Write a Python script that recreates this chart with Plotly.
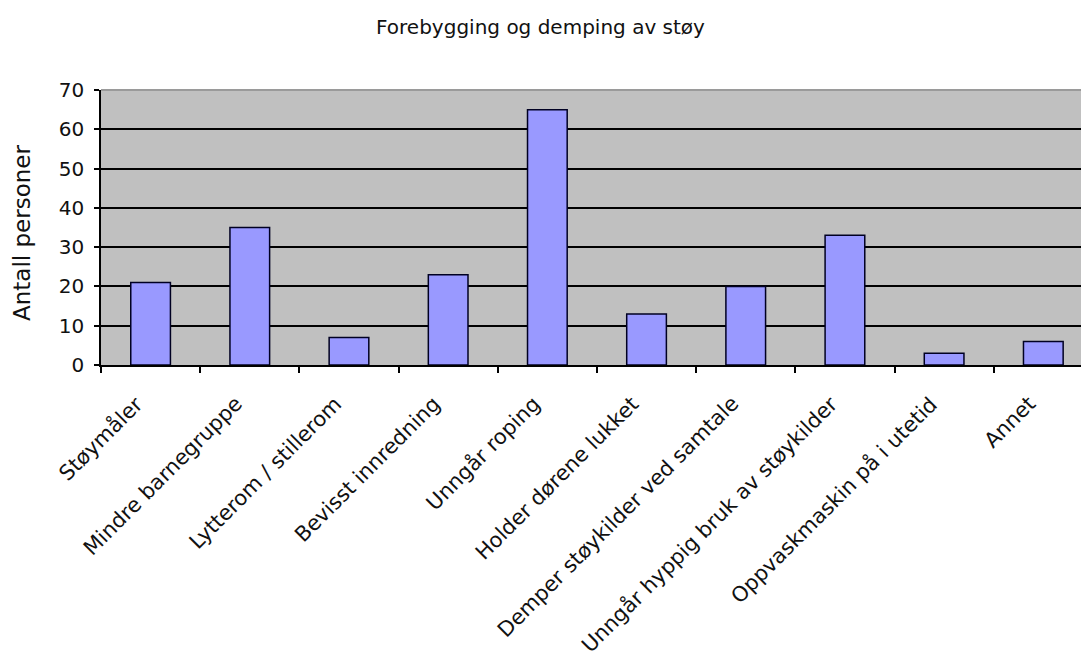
import plotly.graph_objects as go

# Survey answers: measures used to prevent and dampen noise
categories = [
    "Støymåler",
    "Mindre barnegruppe",
    "Lytterom / stillerom",
    "Bevisst innredning",
    "Unngår roping",
    "Holder dørene lukket",
    "Demper støykilder ved samtale",
    "Unngår hyppig bruk av støykilder",
    "Oppvaskmaskin på i utetid",
    "Annet",
]
counts = [21, 35, 7, 23, 65, 13, 20, 33, 3, 6]

y_ticks = [0, 10, 20, 30, 40, 50, 60, 70]

FONT = "DejaVu Sans"
PLOT_TOP, PLOT_BOTTOM = 90, 365
PLOT_H = PLOT_BOTTOM - PLOT_TOP

fig = go.Figure(
    go.Bar(
        x=categories,
        y=counts,
        width=0.4,
        marker=dict(color="#9999FF", line=dict(color="#000022", width=1.5)),
        hoverinfo="x+y",
    )
)

fig.update_layout(
    width=1081,
    height=663,
    margin=dict(l=101, r=0, t=PLOT_TOP, b=663 - PLOT_BOTTOM),
    paper_bgcolor="white",
    plot_bgcolor="#C0C0C0",
    showlegend=False,
    font=dict(family=FONT, color="black"),
    title=dict(
        text="Forebygging og demping av støy",
        x=0.5,
        xref="container",
        y=1 - 27 / 663,
        yref="container",
        xanchor="center",
        yanchor="middle",
        font=dict(family=FONT, size=20, color="#111111"),
    ),
    bargap=0.6,
)

fig.update_xaxes(
    type="category",
    range=[-0.5, 9.38],
    showgrid=False,
    showline=True,
    linecolor="black",
    linewidth=1.5,
    ticks="outside",
    tickson="boundaries",
    ticklen=6,
    tickcolor="black",
    tickwidth=1.5,
    showticklabels=False,
    automargin=False,
)

fig.update_yaxes(
    range=[0, 70],
    tickvals=y_ticks,
    showgrid=True,
    gridcolor="black",
    gridwidth=1.5,
    zeroline=False,
    showline=True,
    linecolor="black",
    linewidth=1.5,
    ticks="outside",
    ticklen=5,
    tickcolor="black",
    tickwidth=1.5,
    ticklabelstandoff=6,
    tickfont=dict(family=FONT, size=20, color="#111111"),
    automargin=False,
)

# slanted category labels, ending just left of each category centre
for cat in categories:
    fig.add_annotation(
        text=cat,
        x=cat,
        xref="x",
        y=(PLOT_BOTTOM - 389) / PLOT_H,
        yref="paper",
        xanchor="right",
        yanchor="top",
        xshift=0,
        textangle=-45,
        showarrow=False,
        font=dict(family=FONT, size=21, color="#111111"),
    )

# light border along the top of the plotting area
fig.add_shape(
    type="line",
    xref="paper",
    yref="paper",
    x0=0,
    x1=1,
    y0=1,
    y1=1,
    line=dict(color="#9a9a9a", width=2),
)

# vertical axis title
fig.add_annotation(
    text="Antall personer",
    xref="paper",
    yref="paper",
    x=(22 - 101) / 980,
    y=(PLOT_BOTTOM - 233) / PLOT_H,
    xanchor="center",
    yanchor="middle",
    textangle=-90,
    showarrow=False,
    font=dict(family=FONT, size=23, color="#111111"),
)

fig.write_html("out.html")
